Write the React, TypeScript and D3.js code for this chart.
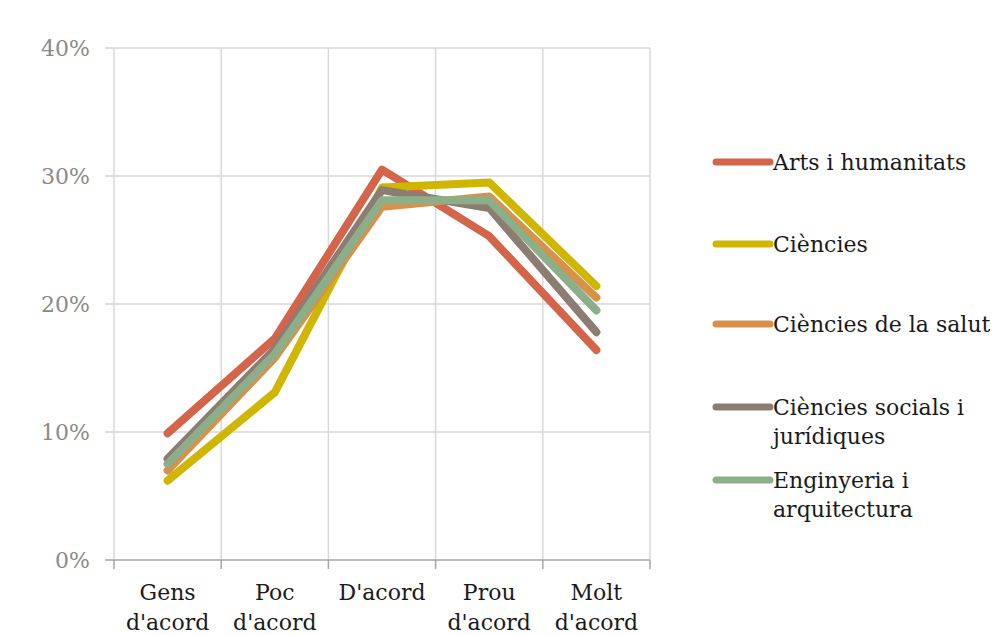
import React, { useEffect, useRef } from "react";
import * as d3 from "d3";

const categories = [["Gens", "d'acord"], ["Poc", "d'acord"], ["D'acord"], ["Prou", "d'acord"], ["Molt", "d'acord"]];
const seriesNames = [["Arts i humanitats"], ["Ciències"], ["Ciències de la salut"], ["Ciències socials i", "jurídiques"], ["Enginyeria i", "arquitectura"]];
const arts = [9.9, 17.3, 30.5, 25.3, 16.4];
const ciencies = [6.2, 13.1, 29.1, 29.5, 21.4];
const salut = [7.0, 15.8, 27.6, 28.4, 20.5];
const socials = [7.9, 16.5, 28.9, 27.5, 17.8];
const enginyeria = [7.5, 16.1, 28.1, 28.1, 19.5];
const yTicks = [0, 10, 20, 30, 40];

const colors = ["#D4644A", "#CFB600", "#D8914B", "#8C7C71", "#8CAF8A"];

export default function App() {
  const ref = useRef<SVGSVGElement>(null);

  useEffect(() => {
    const svg = d3.select(ref.current);
    svg.selectAll("*").remove();

    const font = "'DejaVu Serif', serif";
    const left = 114, right = 650, top = 48, bottom = 560;
    const series = [arts, ciencies, salut, socials, enginyeria];

    const x = d3.scaleBand<number>().domain(d3.range(categories.length)).range([left, right]);
    const y = d3.scaleLinear().domain([0, 40]).range([bottom, top]);

    // grid
    const grid = svg.append("g");
    grid.selectAll("line.h")
      .data(yTicks.filter(d => d > 0))
      .enter().append("line")
      .attr("x1", left - 9).attr("x2", right)
      .attr("y1", d => y(d)).attr("y2", d => y(d))
      .attr("stroke", "#d9d9d9").attr("stroke-width", 1.5);

    const bounds = d3.range(categories.length + 1).map(i => left + i * x.bandwidth());
    grid.selectAll("line.v")
      .data(bounds)
      .enter().append("line")
      .attr("x1", d => d).attr("x2", d => d)
      .attr("y1", top).attr("y2", bottom)
      .attr("stroke", "#d9d9d9")
      .attr("stroke-width", 1.5);

    // x axis
    svg.append("line")
      .attr("x1", left - 9).attr("x2", right)
      .attr("y1", bottom).attr("y2", bottom)
      .attr("stroke", "#a6a6a6").attr("stroke-width", 1.5);
    svg.selectAll("line.xt")
      .data(bounds)
      .enter().append("line")
      .attr("x1", d => d).attr("x2", d => d)
      .attr("y1", bottom).attr("y2", bottom + 9)
      .attr("stroke", "#a6a6a6").attr("stroke-width", 1.5);

    // y labels
    svg.selectAll("text.yl")
      .data(yTicks)
      .enter().append("text")
      .attr("x", 90).attr("y", d => y(d) + 8)
      .attr("text-anchor", "end")
      .attr("font-family", font).attr("font-size", 22)
      .attr("fill", "#8a8a8a")
      .text(d => `${d}%`);

    // x labels
    categories.forEach((lines, i) => {
      const t = svg.append("text")
        .attr("text-anchor", "middle")
        .attr("font-family", font).attr("font-size", 22)
        .attr("fill", "#1a1a1a");
      lines.forEach((l, j) => {
        t.append("tspan")
          .attr("x", (x(i) ?? 0) + x.bandwidth() / 2)
          .attr("y", 600 + j * 30)
          .text(l);
      });
    });

    // lines
    const line = d3.line<number>()
      .x((d, i) => (x(i) ?? 0) + x.bandwidth() / 2)
      .y(d => y(d));
    svg.selectAll("path.series")
      .data(series)
      .enter().append("path")
      .attr("d", d => line(d))
      .attr("fill", "none")
      .attr("stroke", (d, i) => colors[i])
      .attr("stroke-width", 8)
      .attr("stroke-linecap", "round")
      .attr("stroke-linejoin", "round");

    // legend
    const legendY = [170, 252, 332, 415, 488];
    seriesNames.forEach((lines, i) => {
      const g = svg.append("g");
      g.append("line")
        .attr("x1", 716).attr("x2", 770)
        .attr("y1", legendY[i] - 8).attr("y2", legendY[i] - 8)
        .attr("stroke", colors[i]).attr("stroke-width", 7)
        .attr("stroke-linecap", "round");
      const t = g.append("text")
        .attr("font-family", font).attr("font-size", 22)
        .attr("fill", "#1a1a1a");
      lines.forEach((l, j) => {
        t.append("tspan").attr("x", 773).attr("y", legendY[i] + j * 29).text(l);
      });
    });
  }, []);

  return (
    <svg ref={ref} width={999} height={635}
      style={{ position: "absolute", left: 0, top: 0, background: "#fff" }} />
  );
}
